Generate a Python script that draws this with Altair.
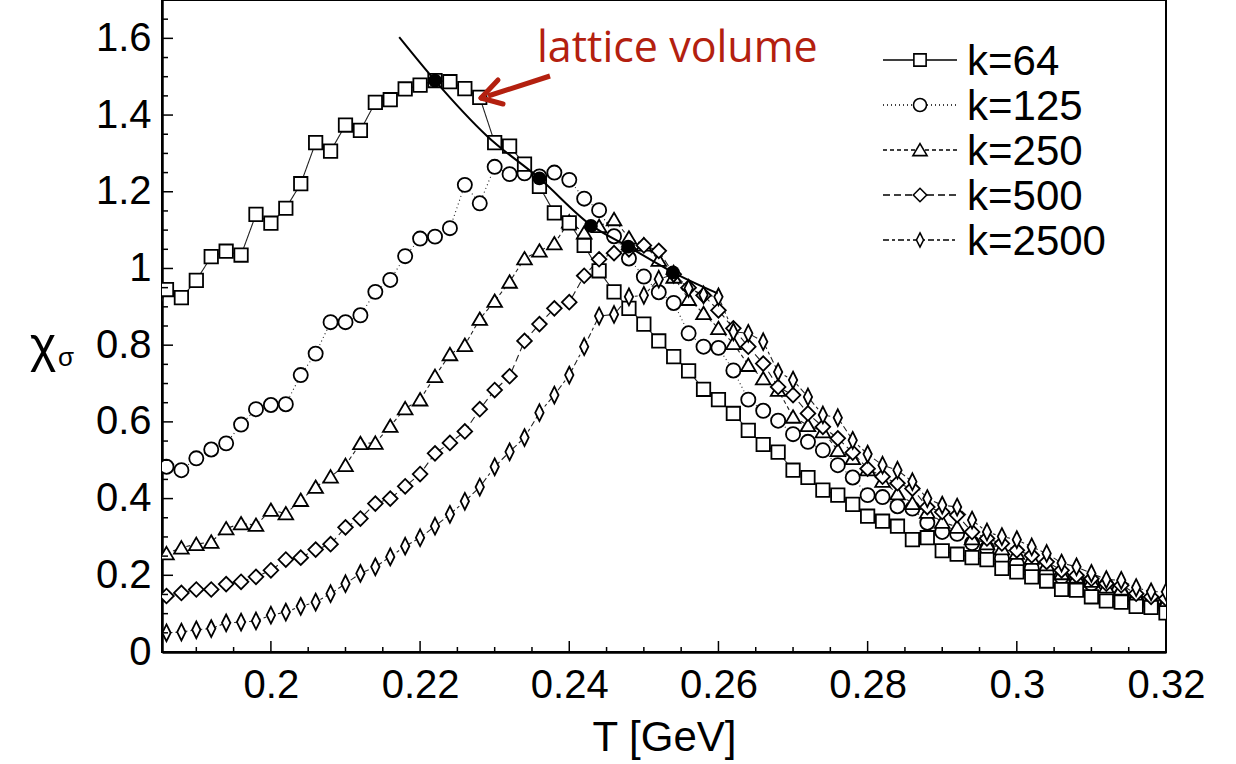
import altair as alt
import pandas as pd

# ---------------- data ----------------
T = [0.184, 0.186, 0.188, 0.190, 0.192, 0.194, 0.196, 0.198, 0.200, 0.202,
     0.204, 0.206, 0.208, 0.210, 0.212, 0.214, 0.216, 0.218, 0.220, 0.222,
     0.224, 0.226, 0.228, 0.230, 0.232, 0.234, 0.236, 0.238, 0.240, 0.242,
     0.244, 0.246, 0.248, 0.250, 0.252, 0.254, 0.256, 0.258, 0.260, 0.262,
     0.264, 0.266, 0.268, 0.270, 0.272, 0.274, 0.276, 0.278, 0.280, 0.282,
     0.284, 0.286, 0.288, 0.290, 0.292, 0.294, 0.296, 0.298, 0.300, 0.302,
     0.304, 0.306, 0.308, 0.310, 0.312, 0.314, 0.316, 0.318, 0.320]

k64 = [0.85, 0.945, 0.924, 0.969, 1.031, 1.045, 1.035, 1.141, 1.118, 1.157,
       1.221, 1.328, 1.306, 1.374, 1.360, 1.433, 1.440, 1.468, 1.478, 1.490,
       1.487, 1.469, 1.446, 1.328, 1.319, 1.272, 1.214, 1.145, 1.119, 1.060,
       0.994, 0.939, 0.896, 0.855, 0.811, 0.770, 0.733, 0.685, 0.658, 0.622,
       0.578, 0.541, 0.521, 0.474, 0.455, 0.422, 0.409, 0.385, 0.354, 0.341,
       0.328, 0.293, 0.298, 0.264, 0.255, 0.246, 0.241, 0.218, 0.209, 0.196,
       0.185, 0.163, 0.161, 0.144, 0.133, 0.130, 0.119, 0.116, 0.102]

k125 = [None, 0.483, 0.474, 0.505, 0.528, 0.544, 0.593, 0.633, 0.644, 0.646,
        0.722, 0.778, 0.860, 0.860, 0.878, 0.939, 0.970, 1.032, 1.078, 1.083,
        1.105, 1.218, 1.170, 1.265, 1.246, 1.248, 1.240, 1.250, 1.231, 1.182,
        1.152, 1.084, 1.026, 0.979, 0.938, 0.910, 0.831, 0.796, 0.793, 0.734,
        0.658, 0.629, 0.603, 0.568, 0.548, 0.526, 0.487, 0.455, 0.409, 0.404,
        0.380, 0.374, 0.337, 0.313, 0.308, 0.284, 0.270, 0.244, 0.229, 0.218,
        0.205, 0.196, 0.187, 0.178, 0.174, 0.148, 0.135, 0.126, 0.117]

k250 = [None, 0.257, 0.272, 0.281, 0.287, 0.322, 0.335, 0.331, 0.370, 0.361,
        0.396, 0.430, 0.457, 0.487, 0.544, 0.545, 0.589, 0.635, 0.658, 0.719,
        0.776, 0.800, 0.868, 0.915, 0.965, 1.026, 1.046, 1.065, 1.122, 1.093,
        1.110, 1.128, 1.080, 1.062, 1.022, 0.978, 0.920, 0.883, 0.844, 0.805,
        0.748, 0.713, 0.683, 0.613, 0.591, 0.575, 0.526, 0.505, 0.476, 0.446,
        0.413, 0.388, 0.365, 0.339, 0.326, 0.296, 0.283, 0.270, 0.258, 0.245,
        0.228, 0.205, 0.196, 0.185, 0.170, 0.165, 0.148, 0.138, 0.130]

k500 = [None, 0.146, 0.154, 0.163, 0.163, 0.177, 0.183, 0.196, 0.213, 0.241,
        0.246, 0.267, 0.281, 0.325, 0.348, 0.387, 0.400, 0.432, 0.464, 0.518,
        0.545, 0.575, 0.633, 0.683, 0.719, 0.811, 0.855, 0.896, 0.912, 0.981,
        1.024, 1.040, 1.050, 1.060, 1.046, 0.985, 0.950, 0.930, 0.891, 0.844,
        0.796, 0.752, 0.691, 0.670, 0.622, 0.587, 0.557, 0.520, 0.478, 0.457,
        0.440, 0.426, 0.378, 0.365, 0.357, 0.313, 0.296, 0.283, 0.265, 0.252,
        0.235, 0.213, 0.200, 0.191, 0.178, 0.174, 0.152, 0.144, 0.139]

k2500 = [None, 0.050, 0.052, 0.058, 0.061, 0.076, 0.078, 0.081, 0.096, 0.104,
         0.119, 0.130, 0.152, 0.178, 0.205, 0.222, 0.248, 0.276, 0.298, 0.328,
         0.359, 0.393, 0.430, 0.483, 0.522, 0.559, 0.624, 0.670, 0.722, 0.796,
         0.876, 0.880, 0.926, 0.930, 0.972, 0.985, 0.948, 0.931, 0.926, 0.835,
         0.831, 0.809, 0.730, 0.709, 0.665, 0.618, 0.611, 0.552, 0.516, 0.487,
         0.474, 0.444, 0.400, 0.383, 0.378, 0.344, 0.313, 0.301, 0.293, 0.274,
         0.257, 0.232, 0.222, 0.205, 0.189, 0.187, 0.168, 0.157, 0.157]

# fitted curve and its black points
curve_T = [0.2172, 0.222, 0.229, 0.236, 0.2429, 0.2479, 0.2539, 0.2599]
curve_chi = [1.603, 1.490, 1.345, 1.235, 1.113, 1.057, 0.990, 0.935]
dots_T = [0.222, 0.236, 0.2429, 0.2479, 0.2539]
dots_chi = [1.490, 1.235, 1.111, 1.057, 0.990]

x_labels = [0.20, 0.22, 0.24, 0.26, 0.28, 0.30, 0.32]
x_minor = [0.19, 0.195, 0.205, 0.21, 0.215, 0.225, 0.23, 0.235, 0.245, 0.25,
           0.255, 0.265, 0.27, 0.275, 0.285, 0.29, 0.295, 0.305, 0.31, 0.315]
y_labels = [0, 0.2, 0.4, 0.6, 0.8, 1.0, 1.2, 1.4, 1.6]
y_minor = [0.05, 0.1, 0.15, 0.25, 0.3, 0.35, 0.45, 0.5, 0.55, 0.65, 0.7, 0.75,
           0.85, 0.9, 0.95, 1.05, 1.1, 1.15, 1.25, 1.3, 1.35, 1.45, 1.5, 1.55, 1.65]

legend_labels = ["k=64", "k=125", "k=250", "k=500", "k=2500"]

# ---------------- styling ----------------
W, H = 1004, 652
FONT = "Liberation Sans"
RED = "#b3200f"

xscale = alt.Scale(domain=[0.1854, 0.32], nice=False, zero=False)
yscale = alt.Scale(domain=[0, 1.70], nice=False, zero=True)

xaxis = alt.Axis(values=x_labels, format="~g", ticks=False, grid=False,
                 domainColor="black", domainWidth=2.5, labelFontSize=40,
                 labelColor="black", labelPadding=13, labelFlush=False,
                 labelOverlap=False, title="T [GeV]", titleFontSize=42,
                 titleFontWeight="normal", titleColor="black", titlePadding=12,
                 labelFont=FONT, titleFont=FONT)
yaxis = alt.Axis(values=y_labels, format="~g", ticks=False, grid=False,
                 domainColor="black", domainWidth=2.5, labelFontSize=40,
                 labelColor="black", labelPadding=11, labelOverlap=False,
                 labelFlush=False, title="", labelFont=FONT)


def X(field):
    return alt.X(field, scale=xscale, axis=xaxis, title="T [GeV]")


def Y(field):
    return alt.Y(field, scale=yscale, axis=yaxis, title="")


TRI = "M0,-0.9L1,0.8L-1,0.8Z"
THIN = "M0,-1L0.5,0L0,1L-0.5,0Z"

series = [
    ("k=64", k64, [1, 0], "square", 180),
    ("k=125", k125, [1, 3], "circle", 200),
    ("k=250", k250, [4, 3], TRI, 215),
    ("k=500", k500, [7, 4], "diamond", 215),
    ("k=2500", k2500, [6, 3, 3, 3], THIN, 280),
]

layers = []
line_layers = []
point_layers = []
for i, (name, vals, dash, shape, size) in enumerate(series):
    df = pd.DataFrame({"T": T, "chi": vals}).dropna()
    base = alt.Chart(df).encode(x=X("T:Q"), y=Y("chi:Q"))
    line_layers.append(base.mark_line(color="#222222", strokeWidth=1.1,
                                      strokeDash=dash, clip=True))
    point_layers.append(base.mark_point(shape=shape, size=size, filled=True,
                                        fill="white", stroke="black",
                                        strokeWidth=1.8, opacity=1, clip=True))

order = [1, 2, 0, 3, 4]
layers += line_layers
layers += [point_layers[j] for j in order]

# fit curve
curve_df = pd.DataFrame({"T": curve_T, "chi": curve_chi})
layers.append(alt.Chart(curve_df).mark_line(color="black", strokeWidth=2,
                                             interpolate="monotone").encode(
    x=X("T:Q"), y=Y("chi:Q")))
dots_df = pd.DataFrame({"T": dots_T, "chi": dots_chi})
layers.append(alt.Chart(dots_df).mark_point(shape="circle", size=190, filled=True,
                                            color="black", opacity=1).encode(
    x=X("T:Q"), y=Y("chi:Q")))


# inward ticks
def xticks(vals, length):
    return alt.Chart(pd.DataFrame({"T": vals})).mark_rule(color="black", strokeWidth=1.5).encode(
        x=X("T:Q"), y=alt.value(H), y2=alt.value(H - length))


def yticks(vals, length):
    return alt.Chart(pd.DataFrame({"chi": vals})).mark_rule(color="black", strokeWidth=1.5).encode(
        y=Y("chi:Q"), x=alt.value(0), x2=alt.value(length))


layers += [xticks(x_labels, 11), xticks(x_minor, 5), yticks(y_labels, 11), yticks(y_minor, 6)]

# legend (drawn inside the frame)
one = pd.DataFrame({"a": [0]})
leg_y = [60, 105, 150, 195, 240]
for i, (name, vals, dash, shape, size) in enumerate(series):
    yv = leg_y[i]
    layers.append(alt.Chart(one).mark_rule(color="black", strokeWidth=1.3, strokeDash=dash).encode(
        x=alt.value(721), x2=alt.value(795), y=alt.value(yv)))
    lsize = {"square": 150, "circle": 170, "diamond": 180}.get(shape, 200)
    layers.append(alt.Chart(one).mark_point(shape=shape, size=lsize, filled=True, fill="white",
                                            stroke="black", strokeWidth=1.6, opacity=1).encode(
        x=alt.value(758), y=alt.value(yv)))
    layers.append(alt.Chart(one).mark_text(text=legend_labels[i], align="left", baseline="middle",
                                           fontSize=42, font=FONT, color="black").encode(
        x=alt.value(805), y=alt.value(yv + 2)))

# y-axis title chi_sigma
layers.append(alt.Chart(one).mark_text(text="χ", align="center", baseline="middle",
                                       fontSize=50, font=FONT, color="black").encode(
    x=alt.value(-119), y=alt.value(347)))
layers.append(alt.Chart(one).mark_text(text="σ", align="center", baseline="middle",
                                       fontSize=26, font=FONT, color="black").encode(
    x=alt.value(-96), y=alt.value(358)))

# annotation
layers.append(alt.Chart(one).mark_text(text="lattice volume", align="left", baseline="alphabetic",
                                       fontSize=43, font="Open Sans", color=RED).encode(
    x=alt.value(375), y=alt.value(62)))
layers.append(alt.Chart(one).mark_rule(color=RED, strokeWidth=5, strokeCap="butt").encode(
    x=alt.value(388), y=alt.value(76), x2=alt.value(326), y2=alt.value(96)))
layers.append(alt.Chart(one).mark_rule(color=RED, strokeWidth=5, strokeCap="round").encode(
    x=alt.value(319), y=alt.value(98), x2=alt.value(336), y2=alt.value(80)))
layers.append(alt.Chart(one).mark_rule(color=RED, strokeWidth=5, strokeCap="round").encode(
    x=alt.value(319), y=alt.value(98), x2=alt.value(341), y2=alt.value(104)))

chart = alt.layer(*layers).properties(
    width=W, height=H,
    autosize=alt.AutoSizeParams(type="none"),
    padding={"left": 162, "top": 0, "right": 70, "bottom": 112},
    background="white",
).configure_view(stroke="black", strokeWidth=2)

chart.save("out.html", embed_options={"renderer": "svg", "actions": False})
